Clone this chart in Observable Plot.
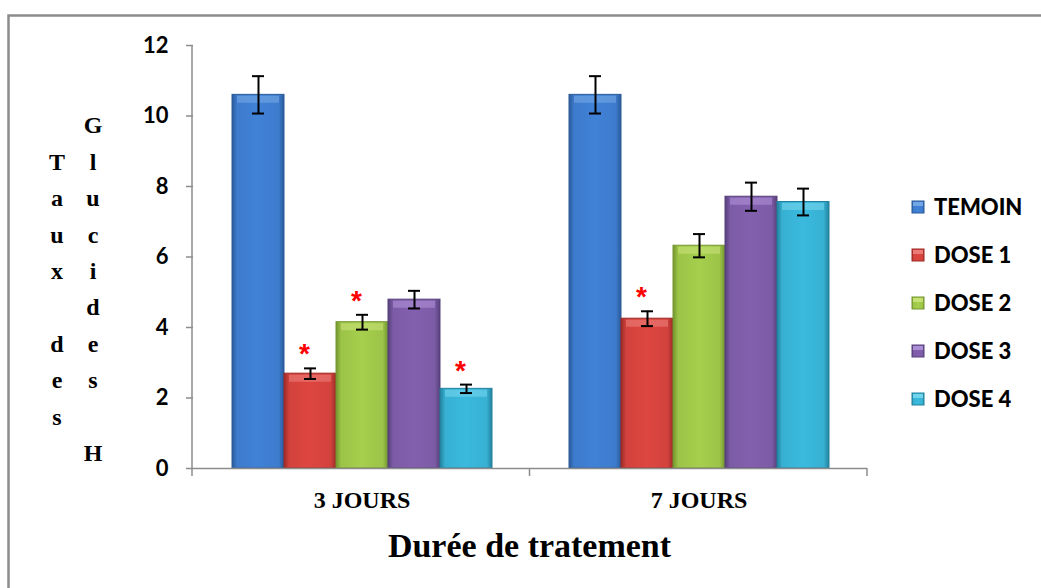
<!DOCTYPE html>
<html>
<head>
<meta charset="utf-8">
<script src="https://cdn.jsdelivr.net/npm/d3@7"></script>
<script src="https://cdn.jsdelivr.net/npm/@observablehq/plot@0.6"></script>
<style>
  html, body { margin: 0; padding: 0; background: #fff; }
  #chart { position: relative; width: 1041px; height: 588px; }
</style>
</head>
<body>
<svg width="0" height="0" style="position:absolute" id="defs"></svg>
<div id="chart"></div>
<script>
// ---- data ----
const categories = ["3 JOURS", "7 JOURS"];
const series = ["TEMOIN", "DOSE 1", "DOSE 2", "DOSE 3", "DOSE 4"];
const values3 = [10.6, 2.69, 4.15, 4.79, 2.26];
const values7 = [10.6, 4.25, 6.32, 7.71, 7.56];
const err3 = [0.53, 0.15, 0.21, 0.25, 0.12];
const err7 = [0.53, 0.21, 0.33, 0.40, 0.38];
const signif3 = [false, true, true, false, true];
const signif7 = [false, true, false, false, false];
const colorsMid = ["#3d7bcc", "#d2423d", "#9cc448", "#7c5ba6", "#37b0d2"];
const colorsDark = ["#2a5a9a", "#9c2a26", "#74952f", "#56407a", "#22819e"];
const colorsLight = ["#7fb0ea", "#f08a86", "#cfe67f", "#b79be0", "#7fdcf2"];
const yTicks = [0, 2, 4, 6, 8, 10, 12];
const yTitleCol1 = ["", "T", "a", "u", "x", "", "d", "e", "s", ""];
const yTitleCol2 = ["G", "l", "u", "c", "i", "d", "e", "s", "", "H"];
const xTitle = "Durée de tratement";

// ---- table ----
const table = [];
categories.forEach((cat, ci) => {
  const vals = ci === 0 ? values3 : values7;
  const errs = ci === 0 ? err3 : err7;
  const sig = ci === 0 ? signif3 : signif7;
  series.forEach((s, si) => table.push({cat, series: s, si, v: vals[si], e: errs[si], sig: sig[si]}));
});

// ---- gradients ----
const defs = d3.select("#defs").append("defs");
series.forEach((s, i) => {
  const g = defs.append("linearGradient").attr("id", "g" + i).attr("x1", 0).attr("x2", 1).attr("y1", 0).attr("y2", 0);
  [[0, colorsDark[i]], [0.1, colorsMid[i]], [0.5, d3.color(colorsMid[i]).brighter(0.15)], [0.9, colorsMid[i]], [1, colorsDark[i]]]
    .forEach(([o, c]) => g.append("stop").attr("offset", o).attr("stop-color", c));
});

const marginLeft = 192, marginRight = 174, marginTop = 45, marginBottom = 120;
const W = 1041, H = 588;

const marks = [];
series.forEach((s, i) => {
  const d = table.filter(r => r.si === i);
  marks.push(Plot.barY(d, {fx: "cat", x: "series", y: "v", fill: `url(#g${i})`, stroke: colorsDark[i], strokeWidth: 1}));
  marks.push(Plot.tickY(d, {fx: "cat", x: "series", y: "v", stroke: colorsLight[i], strokeWidth: 7, dy: 4.5, insetLeft: 5, insetRight: 5, strokeOpacity: 0.5}));
});
marks.push(
  Plot.ruleY([0], {stroke: "#8c8c8c", strokeWidth: 1.5}),
  Plot.ruleX(table, {fx: "cat", x: "series", y1: d => d.v - d.e, y2: d => d.v + d.e, stroke: "black", strokeWidth: 2}),
  Plot.tickY(table, {fx: "cat", x: "series", y: d => d.v + d.e, stroke: "black", strokeWidth: 2, insetLeft: 20, insetRight: 20}),
  Plot.tickY(table, {fx: "cat", x: "series", y: d => d.v - d.e, stroke: "black", strokeWidth: 2, insetLeft: 20, insetRight: 20}),
  Plot.text(table.filter(d => d.sig), {fx: "cat", x: "series", y: d => d.v + d.e, text: () => "*", fill: "#ff0000", fontSize: 28, fontWeight: "bold", fontFamily: "Liberation Sans", dx: -6, dy: -14}),
  Plot.axisY({ticks: yTicks, tickSize: 7, tickPadding: 18, fontSize: 22, fontWeight: "bold", fontFamily: "Lato", stroke: "#8c8c8c", fill: "#000", strokeWidth: 1.5, label: null}),
  Plot.axisFx({anchor: "bottom", tickSize: 0, tickPadding: 22, fontSize: 24, fontWeight: "bold", fontFamily: "Liberation Serif", fill: "#000", label: null})
);

const plot = Plot.plot({
  width: W, height: H,
  marginLeft, marginRight, marginTop, marginBottom,
  style: {background: "transparent", fontFamily: "Lato", color: "#000"},
  fx: {domain: categories, padding: 0, label: null},
  x: {domain: series, paddingInner: 0, paddingOuter: 0.728, axis: null},
  y: {domain: [0, 12], axis: null},
  marks
});
document.getElementById("chart").append(plot);

// ---- decorations ----
const svg = d3.select(plot);
const y = plot.scale("y");
const x0 = marginLeft, x1 = W - marginRight, xm = (x0 + x1) / 2;
const yb = y.apply(0), yt = y.apply(12);
const deco = svg.append("g");
// outer border (top & left)
deco.append("path").attr("d", `M8.5,${H} V15.5 H${W}`).attr("fill", "none").attr("stroke", "#8c8c8c").attr("stroke-width", 2.5);
// y axis line
deco.append("line").attr("x1", x0).attr("x2", x0).attr("y1", yt).attr("y2", yb).attr("stroke", "#8c8c8c").attr("stroke-width", 1.5);
// x axis ticks
[x0, xm, x1].forEach(xx => deco.append("line").attr("x1", xx).attr("x2", xx).attr("y1", yb).attr("y2", yb + 8).attr("stroke", "#8c8c8c").attr("stroke-width", 1.5));
// x title
deco.append("text").attr("x", xm).attr("y", 557).attr("text-anchor", "middle")
  .attr("font-family", "Liberation Serif").attr("font-weight", "bold").attr("font-size", 34).attr("fill", "#000").text(xTitle);
// y title (stacked letters)
const pitch = 36.4, row0 = 125;
[[57, yTitleCol1], [93, yTitleCol2]].forEach(([cx, letters]) => {
  letters.forEach((ch, r) => {
    if (!ch) return;
    deco.append("text").attr("x", cx).attr("y", row0 + r * pitch).attr("dy", "0.35em").attr("text-anchor", "middle")
      .attr("font-family", "Liberation Serif").attr("font-weight", "bold").attr("font-size", 24).attr("fill", "#000").text(ch);
  });
});
// legend
const lg = deco.append("g");
series.forEach((s, i) => {
  const cy = 207 + i * 48;
  lg.append("rect").attr("x", 912).attr("y", cy - 6).attr("width", 12).attr("height", 12)
    .attr("fill", `url(#g${i})`).attr("stroke", colorsDark[i]).attr("stroke-width", 1);
  lg.append("rect").attr("x", 913).attr("y", cy - 5).attr("width", 10).attr("height", 4).attr("fill", colorsLight[i]).attr("opacity", 0.8);
  lg.append("text").attr("x", 934).attr("y", cy).attr("dy", "0.35em").attr("text-anchor", "start")
    .attr("font-family", "Lato").attr("font-weight", "900")
    .attr("font-size", 22).attr("fill", "#000").text(s);
});
</script>
</body>
</html>
